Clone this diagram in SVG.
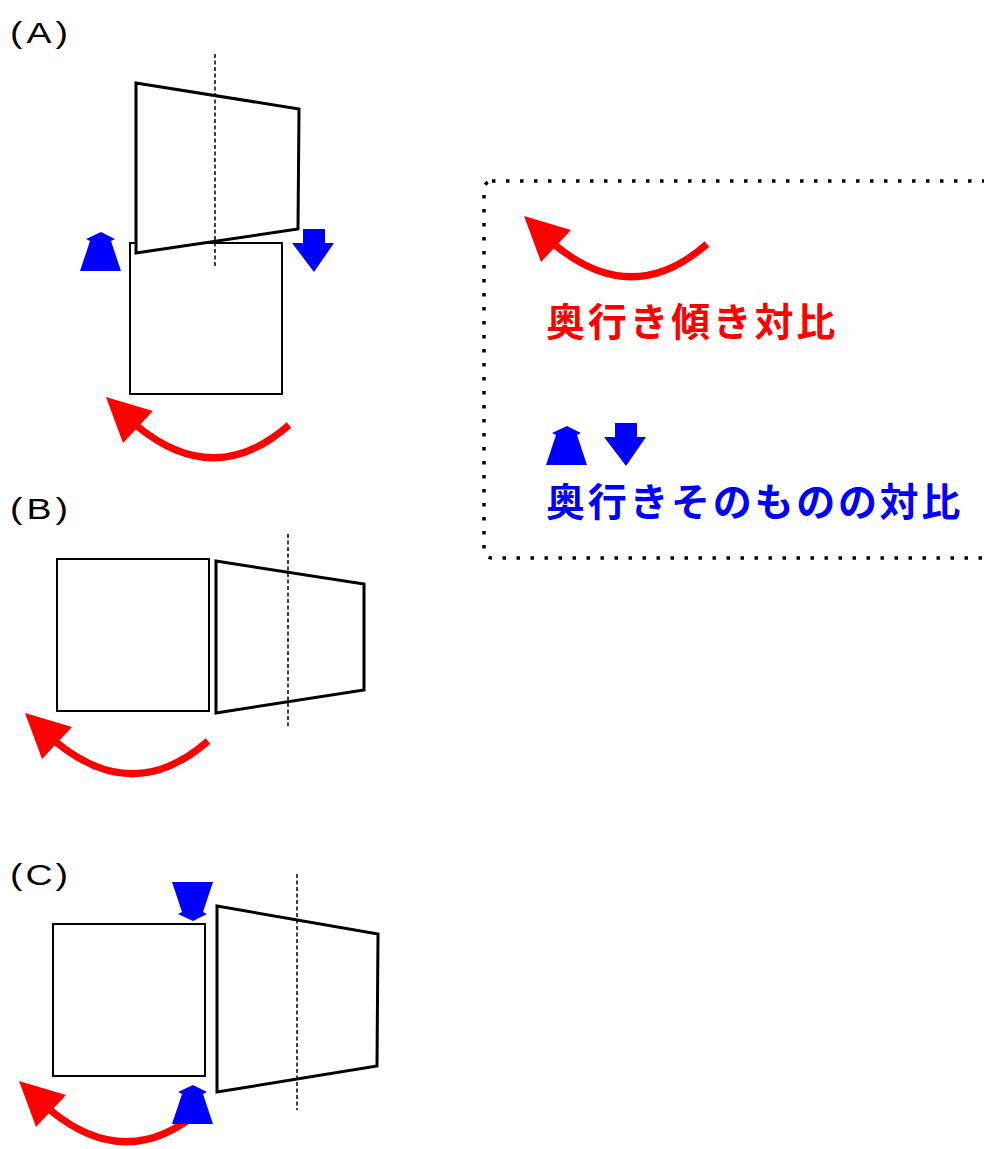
<svg xmlns="http://www.w3.org/2000/svg" xmlns:xlink="http://www.w3.org/1999/xlink" width="984" height="1149" viewBox="0 0 984 1149">
  <style>
    .label { font-family: "Liberation Sans", Arial, sans-serif; font-size: 30px; fill: #000; }
    .legend-text { font-family: "Noto Sans CJK JP", "Noto Sans", sans-serif; font-weight: bold; font-size: 39px; letter-spacing: 2.7px; }
    .square { fill: #fff; stroke: #000; stroke-width: 2; }
    .trap { fill: #fff; stroke: #000; stroke-width: 3; stroke-linejoin: miter; }
    .axis { stroke: #000; stroke-width: 1.5; stroke-dasharray: 4 2.5; fill: none; }
    .tilt-line { fill: none; stroke: #ff0000; stroke-width: 7; }
    .tilt-head { fill: #ff0000; }
    .blue { fill: #0000ff; }
  </style>
  <defs>
    <!-- curved red arrow: tilt contrast -->
    <g id="tilt-arrow">
      <path class="tilt-line" d="M289,425 Q215,490 137,426"/>
      <polygon class="tilt-head" points="106,397 153,411 123,443"/>
    </g>
    <!-- blue up arrow: depth contrast -->
    <path id="up-arrow" class="blue" d="M101,232 L115,239 L111,241 L121,271 L80,271 L90,241 L86,239 Z"/>
    <!-- blue down arrow -->
    <path id="down-arrow" class="blue" d="M303,229 L325,229 L325,243 L334,243 L314,272 L292,243 L303,243 Z"/>
  </defs>

  <!-- (A) -->
  <g id="panel-a">
    <text class="label" transform="translate(10,43) scale(1.25,1)" x="0" y="0" textLength="46.4" lengthAdjust="spacing">(A)</text>
    <rect class="square" x="130" y="243" width="152" height="151"/>
    <polygon class="trap" points="136,83 299,109 298,229 136,253"/>
    <line class="axis" x1="215" y1="54" x2="215" y2="268"/>
    <use xlink:href="#up-arrow"/>
    <use xlink:href="#down-arrow"/>
    <use xlink:href="#tilt-arrow"/>
  </g>

  <!-- (B) -->
  <g id="panel-b">
    <text class="label" transform="translate(10,519) scale(1.25,1)" x="0" y="0" textLength="46.4" lengthAdjust="spacing">(B)</text>
    <rect class="square" x="57" y="559" width="152" height="152"/>
    <polygon class="trap" points="216,561 364,584 364,690 216,713"/>
    <line class="axis" x1="288" y1="534" x2="288" y2="726"/>
    <use xlink:href="#tilt-arrow" transform="translate(-81,316)"/>
  </g>

  <!-- (C) -->
  <g id="panel-c">
    <text class="label" transform="translate(10,885) scale(1.25,1)" x="0" y="0" textLength="46.4" lengthAdjust="spacing">(C)</text>
    <rect class="square" x="53" y="924" width="152" height="152"/>
    <polygon class="trap" points="217,906 378,934 377,1066 217,1092"/>
    <line class="axis" x1="297" y1="874" x2="297" y2="1110"/>
    <use xlink:href="#tilt-arrow" transform="translate(-87,684)"/>
    <use xlink:href="#up-arrow" transform="translate(92,853)"/>
    <use xlink:href="#up-arrow" transform="translate(92,1153) scale(1,-1)"/>
  </g>

  <!-- legend -->
  <g id="legend">
    <rect x="484" y="181" width="530" height="377" rx="8" ry="8" fill="none" stroke="#000" stroke-width="3.5" stroke-dasharray="3.5 10.5"/>
    <use xlink:href="#tilt-arrow" transform="translate(418,-181)"/>
    <text class="legend-text" x="546" y="336" fill="#ff0000">奥行き傾き対比</text>
    <use xlink:href="#up-arrow" transform="translate(466,194)"/>
    <use xlink:href="#down-arrow" transform="translate(312,194)"/>
    <text class="legend-text" x="546" y="516" fill="#0000ff">奥行きそのものの対比</text>
  </g>
</svg>
